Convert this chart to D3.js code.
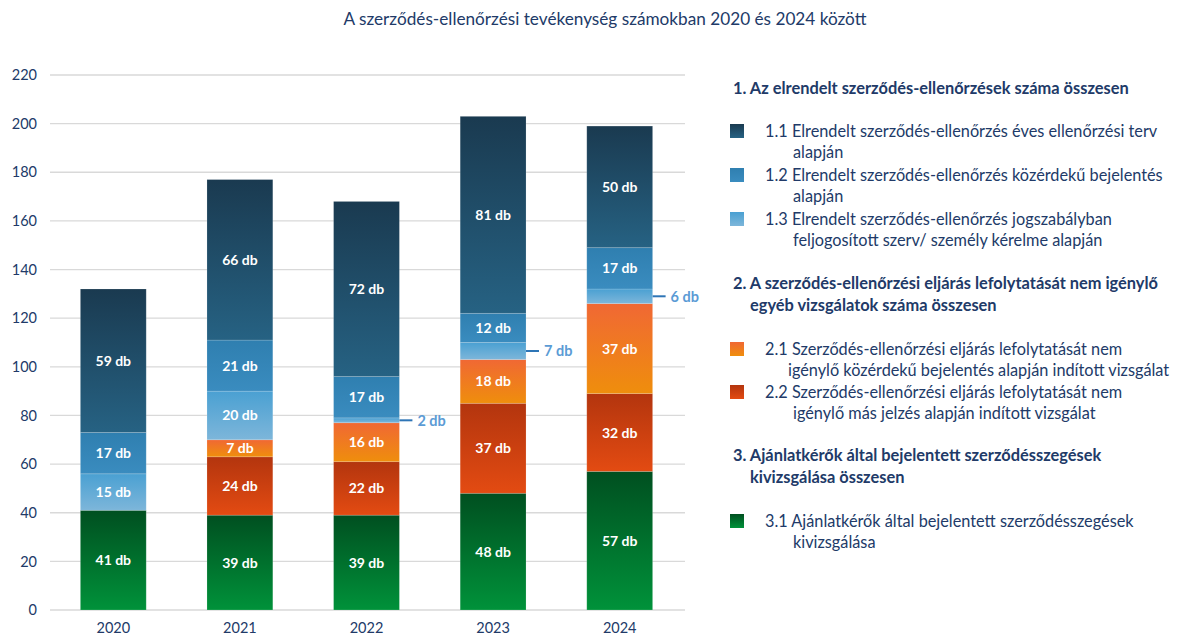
<!DOCTYPE html>
<html>
<head>
<meta charset="utf-8">
<script src="https://cdn.jsdelivr.net/npm/d3@7"></script>
<style>
  body { margin: 0; background: #fff; }
  svg { font-family: Lato, "Open Sans", sans-serif; }
</style>
</head>
<body>
<div id="vis"></div>
<script>
// data
var years = ["2020", "2021", "2022", "2023", "2024"];
var keys = ["s31", "s22", "s21", "s13", "s12", "s11"];   // bottom -> top
var s31 = [41, 39, 39, 48, 57];
var s22 = [0, 24, 22, 37, 32];
var s21 = [0, 7, 16, 18, 37];
var s13 = [15, 20, 2, 7, 6];
var s12 = [17, 21, 17, 12, 17];
var s11 = [59, 66, 72, 81, 50];
var yTicks = [0, 20, 40, 60, 80, 100, 120, 140, 160, 180, 200, 220];

var title = "A szerződés-ellenőrzési tevékenység számokban 2020 és 2024 között";

// [top colour, bottom colour]
var grad = {
  s11: ["#1a3a50", "#266283"],
  s12: ["#2f7fb0", "#3a8cbf"],
  s13: ["#4aa0d2", "#7db6da"],
  s21: ["#f06834", "#ef8e0c"],
  s22: ["#b3350e", "#e34b12"],
  s31: ["#004f20", "#00923a"]
};

var series = { s31: s31, s22: s22, s21: s21, s13: s13, s12: s12, s11: s11 };
var table = years.map(function (y, i) {
  var row = { year: y };
  keys.forEach(function (k) { row[k] = series[k][i]; });
  return row;
});

var width = 1179, height = 637;
var svg = d3.select("#vis").append("svg")
  .attr("width", width).attr("height", height);

var defs = svg.append("defs");
keys.forEach(function (k) {
  var lg = defs.append("linearGradient").attr("id", "g_" + k)
    .attr("x1", 0).attr("y1", 0).attr("x2", 0).attr("y2", 1);
  lg.append("stop").attr("offset", "0%").attr("stop-color", grad[k][0]);
  lg.append("stop").attr("offset", "100%").attr("stop-color", grad[k][1]);
});

var navy = "#213a68";

svg.append("text")
  .attr("x", 605).attr("y", 25)
  .attr("text-anchor", "middle")
  .attr("font-size", 17.2)
  .attr("fill", navy)
  .text(title);

var x = d3.scaleBand().domain(years).range([50, 683]).paddingInner(0.48).paddingOuter(0.24);
var y = d3.scaleLinear().domain([0, 220]).range([610, 75]);

// gridlines
svg.append("g").selectAll("line").data(yTicks).join("line")
  .attr("x1", 50).attr("x2", 685)
  .attr("y1", function (d) { return y(d); })
  .attr("y2", function (d) { return y(d); })
  .attr("stroke", "#d9d9d9").attr("stroke-width", 1.3);

var yAxis = svg.append("g").attr("transform", "translate(37,0)")
  .call(d3.axisLeft(y).tickValues(yTicks).tickSize(0).tickPadding(0));
yAxis.select(".domain").remove();
yAxis.selectAll("text").attr("font-size", 14.5).attr("fill", navy)
  .attr("font-family", "Lato, sans-serif");

var xAxis = svg.append("g").attr("transform", "translate(0,620)")
  .call(d3.axisBottom(x).tickSize(0).tickPadding(0));
xAxis.select(".domain").remove();
xAxis.selectAll("text").attr("font-size", 14.5).attr("fill", navy)
  .attr("dy", "0.9em").attr("font-family", "Lato, sans-serif");

var stack = d3.stack().keys(keys)(table);

var layers = svg.append("g").selectAll("g").data(stack).join("g")
  .attr("fill", function (d) { return "url(#g_" + d.key + ")"; });

layers.selectAll("rect").data(function (d) { return d; }).join("rect")
  .attr("x", function (d) { return x(d.data.year); })
  .attr("width", x.bandwidth())
  .attr("y", function (d) { return y(d[1]); })
  .attr("height", function (d) { return y(d[0]) - y(d[1]); })
  .attr("stroke", "#ffffff").attr("stroke-opacity", 0.2).attr("stroke-width", 0.8);

// value labels
stack.forEach(function (layer) {
  layer.forEach(function (d) {
    var v = d[1] - d[0];
    if (v === 0) return;
    var cx = x(d.data.year) + x.bandwidth() / 2;
    var cy = (y(d[0]) + y(d[1])) / 2;
    if (v < 10 && layer.key === "s13") {
      var bx = x(d.data.year) + x.bandwidth();
      svg.append("line")
        .attr("x1", bx).attr("x2", bx + 13)
        .attr("y1", cy).attr("y2", cy)
        .attr("stroke", "#2e75b6").attr("stroke-width", 2);
      svg.append("text")
        .attr("x", bx + 18).attr("y", cy).attr("dy", "0.36em")
        .attr("font-size", 14.5).attr("font-weight", "bold")
        .attr("fill", "#5b9bd5").text(v + " db");
      return;
    }
    svg.append("text")
      .attr("x", cx).attr("y", cy).attr("dy", "0.36em")
      .attr("text-anchor", "middle")
      .attr("font-size", 14).attr("font-weight", "bold")
      .attr("fill", "#fff").text(v + " db");
  });
});

// legend
var legend = svg.append("g").attr("font-size", 16.3).attr("fill", navy);
var heads = [
  { y: 88, x: 733, lines: ["1. Az elrendelt szerződés-ellenőrzések száma összesen"] },
  { y: 283, x: 733, lines: ["2. A szerződés-ellenőrzési eljárás lefolytatását nem igénylő", "egyéb vizsgálatok száma összesen"] },
  { y: 455, x: 733, lines: ["3. Ajánlatkérők által bejelentett szerződésszegések", "kivizsgálása összesen"] }
];
heads.forEach(function (h) {
  h.lines.forEach(function (t, i) {
    legend.append("text").attr("x", i ? h.x + 17 : h.x).attr("y", h.y + i * 22)
      .attr("dy", "0.35em").attr("font-weight", "bold").attr("font-size", 16.4).text(t);
  });
});

var items = [
  { key: "s11", y: 131, lines: ["1.1 Elrendelt szerződés-ellenőrzés éves ellenőrzési terv", "alapján"], ind: 28 },
  { key: "s12", y: 175, lines: ["1.2 Elrendelt szerződés-ellenőrzés közérdekű bejelentés", "alapján"], ind: 28 },
  { key: "s13", y: 219, lines: ["1.3 Elrendelt szerződés-ellenőrzés jogszabályban", "feljogosított szerv/ személy kérelme alapján"], ind: 28 },
  { key: "s21", y: 349, lines: ["2.1 Szerződés-ellenőrzési eljárás lefolytatását nem", "igénylő közérdekű bejelentés alapján indított vizsgálat"], ind: 23 },
  { key: "s22", y: 392, lines: ["2.2 Szerződés-ellenőrzési eljárás lefolytatását nem", "igénylő más jelzés alapján indított vizsgálat"], ind: 28 },
  { key: "s31", y: 521, lines: ["3.1 Ajánlatkérők által bejelentett szerződésszegések", "kivizsgálása"], ind: 28 }
];
items.forEach(function (it) {
  legend.append("rect").attr("x", 730).attr("y", it.y - 7)
    .attr("width", 14).attr("height", 14)
    .attr("fill", "url(#g_" + it.key + ")");
  it.lines.forEach(function (t, i) {
    legend.append("text").attr("x", 765 + (i ? it.ind : 0)).attr("y", it.y + i * 21.5)
      .attr("dy", "0.35em").text(t);
  });
});
</script>
</body>
</html>
